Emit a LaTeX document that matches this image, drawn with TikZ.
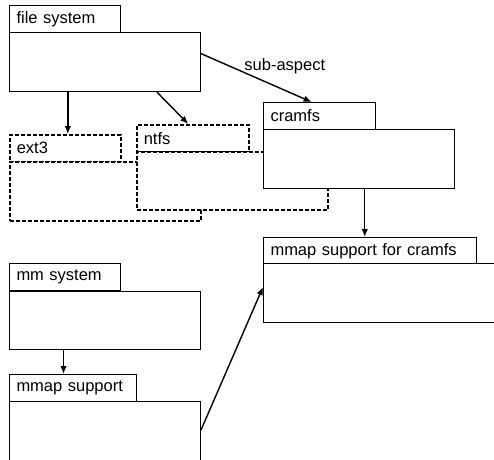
\documentclass[tikz,border=0pt]{standalone}
\usepackage{fontspec}
\setmainfont{Liberation Sans}
\usetikzlibrary{arrows.meta,calc}
\begin{document}
\begin{tikzpicture}[x=1pt,y=-1pt,
  font=\fontsize{16.5}{19}\selectfont,
  pkgtab/.style={draw, fill=white, line width=1pt, anchor=north west,
    inner xsep=7pt, inner ysep=0pt, minimum height=27pt, align=left},
  pkgbody/.style={draw, fill=white, line width=1pt, anchor=north west,
    inner sep=0pt},
  ghost/.style={dash pattern=on 4pt off 2pt, line width=1.6pt},
  link/.style={line width=1.4pt, -{Latex[length=8pt,width=6.5pt]}}]
\clip (0,0) rectangle (494,459);
\fill[white] (0,0) rectangle (494,459);

% file system package
\node[pkgtab, text width=97pt] (fstab) at (9,5) {file system};
\node[pkgbody, minimum width=191pt, minimum height=59pt] (fsbody) at (9,32) {};

% ext3 (dashed)
\node[pkgtab, ghost, text width=97pt] (exttab) at (9,134) {ext3};
\node[pkgbody, ghost, minimum width=191pt, minimum height=59pt] (extbody) at (9,161) {};

% ntfs (dashed)
\node[pkgtab, ghost, text width=98pt] (ntfstab) at (136,124) {ntfs};
\node[pkgbody, ghost, minimum width=191pt, minimum height=58pt] (ntfsbody) at (136,151) {};

% cramfs
\node[pkgtab, text width=98pt] (cramtab) at (263,102) {cramfs};
\node[pkgbody, minimum width=191pt, minimum height=59pt] (crambody) at (263,129) {};

% mmap support for cramfs
\node[pkgtab, text width=199pt] (mctab) at (263,237) {mmap support for cramfs};
\node[pkgbody, minimum width=260pt, minimum height=59pt] (mcbody) at (263,263) {};

% mm system
\node[pkgtab, text width=97pt] (mmtab) at (9,263) {mm system};
\node[pkgbody, minimum width=191pt, minimum height=58pt] (mmbody) at (9,291) {};

% mmap support
\node[pkgtab, text width=113pt] (maptab) at (9,374) {mmap support};
\node[pkgbody, minimum width=191pt, minimum height=100pt] (mapbody) at (9,401) {};

% dependencies
\draw[link] (fsbody.south -| exttab.north) ++(2.5,0) coordinate (a1) -- (a1 |- exttab.north);
\draw[link] ($(fsbody.south west)!0.77!(fsbody.south east)$) -- ($(ntfstab.north west)!0.46!(ntfstab.north east)$);
\draw[link] ($(fsbody.north east)!0.36!(fsbody.south east)$) --
  node[pos=0.45, above right, inner sep=1pt, xshift=-8pt] (subl) {sub-aspect}
  ($(cramtab.north west)!0.43!(cramtab.north east)$);
\draw[link] ($(crambody.south west)!0.53!(crambody.south east)$) coordinate (c1) -- (c1 |- mctab.north);
\draw[link] (mmbody.south -| mmtab.north) ++(-1.5,0) coordinate (m1) -- (m1 |- maptab.north);
\draw[link] ($(mapbody.north east)+(0,29)$) -- ($(mcbody.north west)+(0,24)$);
\end{tikzpicture}
\end{document}
